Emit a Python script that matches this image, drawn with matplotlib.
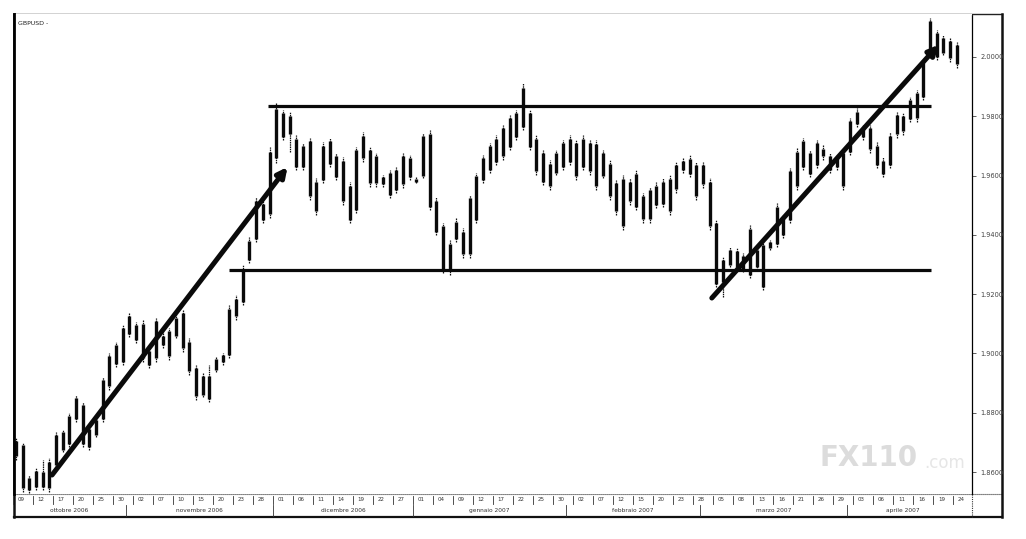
import matplotlib
matplotlib.use("Agg")
import matplotlib.pyplot as plt
import pandas as pd

# daily bars, GBP/USD
HIGH = [
    1.8715, 1.8698, 1.8590, 1.8614, 1.8641, 1.8647, 1.8735, 1.8742, 1.8799, 1.8860,
    1.8836, 1.8752, 1.8782, 1.8921, 1.9002, 1.9039, 1.9096, 1.9137, 1.9106, 1.9113,
    1.9022, 1.9120, 1.9072, 1.9086, 1.9130, 1.9147, 1.9052, 1.8961, 1.8934, 1.8961,
    1.8988, 1.9002, 1.9164, 1.9197, 1.9298, 1.9393, 1.9528, 1.9518, 1.9697, 1.9845,
    1.9821, 1.9815, 1.9737, 1.9710, 1.9727, 1.9592, 1.9713, 1.9727, 1.9676, 1.9663,
    1.9578, 1.9697, 1.9747, 1.9697, 1.9676, 1.9602, 1.9619, 1.9629, 1.9676, 1.9669,
    1.9595, 1.9744, 1.9754, 1.9528, 1.9440, 1.9383, 1.9457, 1.9423, 1.9535, 1.9609,
    1.9669, 1.9710, 1.9737, 1.9771, 1.9804, 1.9821, 1.9912, 1.9821, 1.9737, 1.9686,
    1.9653, 1.9686, 1.9720, 1.9737, 1.9720, 1.9737, 1.9720, 1.9720, 1.9686, 1.9653,
    1.9585, 1.9602, 1.9592, 1.9619, 1.9541, 1.9562, 1.9578, 1.9592, 1.9602, 1.9646,
    1.9659, 1.9669, 1.9646, 1.9646, 1.9592, 1.9450, 1.9325, 1.9359, 1.9356, 1.9339,
    1.9433, 1.9359, 1.9376, 1.9383, 1.9508, 1.9467, 1.9626, 1.9693, 1.9727, 1.9686,
    1.9720, 1.9703, 1.9676, 1.9669, 1.9686, 1.9794, 1.9828, 1.9771, 1.9771, 1.9713,
    1.9663, 1.9747, 1.9815, 1.9811, 1.9865, 1.9889, 1.9990, 2.0132, 2.0091, 2.0074,
    2.0064, 2.0051,
]
LOW = [
    1.8641, 1.8533, 1.8529, 1.8540, 1.8540, 1.8533, 1.8617, 1.8668, 1.8685, 1.8769,
    1.8685, 1.8674, 1.8718, 1.8769, 1.8877, 1.8954, 1.8961, 1.9056, 1.9035, 1.8971,
    1.8951, 1.8971, 1.9019, 1.8978, 1.9052, 1.9005, 1.8927, 1.8843, 1.8853, 1.8836,
    1.8938, 1.8961, 1.8985, 1.9113, 1.9164, 1.9305, 1.9376, 1.9440, 1.9457, 1.9643,
    1.9720, 1.9680, 1.9619, 1.9619, 1.9518, 1.9467, 1.9575, 1.9629, 1.9585, 1.9501,
    1.9440, 1.9474, 1.9646, 1.9562, 1.9562, 1.9562, 1.9524, 1.9541, 1.9558, 1.9585,
    1.9575, 1.9592, 1.9484, 1.9400, 1.9271, 1.9265, 1.9376, 1.9322, 1.9322, 1.9440,
    1.9575, 1.9609, 1.9636, 1.9653, 1.9686, 1.9720, 1.9754, 1.9686, 1.9602, 1.9568,
    1.9551, 1.9602, 1.9619, 1.9636, 1.9585, 1.9619, 1.9602, 1.9551, 1.9592, 1.9518,
    1.9467, 1.9416, 1.9501, 1.9484, 1.9440, 1.9440, 1.9491, 1.9494, 1.9467, 1.9541,
    1.9609, 1.9595, 1.9518, 1.9558, 1.9416, 1.9224, 1.9190, 1.9292, 1.9282, 1.9275,
    1.9255, 1.9282, 1.9214, 1.9349, 1.9359, 1.9390, 1.9440, 1.9551, 1.9619, 1.9595,
    1.9626, 1.9653, 1.9609, 1.9619, 1.9551, 1.9669, 1.9764, 1.9720, 1.9676, 1.9626,
    1.9595, 1.9626, 1.9727, 1.9737, 1.9781, 1.9781, 1.9855, 2.0007, 1.9990, 2.0007,
    1.9983, 1.9963,
]
OPEN = [
    1.8705, 1.8690, 1.8540, 1.8550, 1.8600, 1.8545, 1.8625, 1.8675, 1.8695, 1.8780,
    1.8825, 1.8685, 1.8725, 1.8780, 1.8890, 1.8965, 1.8970, 1.9065, 1.9095, 1.9100,
    1.8960, 1.8985, 1.9030, 1.9075, 1.9060, 1.9135, 1.9040, 1.8950, 1.8860, 1.8925,
    1.8945, 1.8970, 1.8995, 1.9125, 1.9175, 1.9315, 1.9385, 1.9505, 1.9470, 1.9660,
    1.9810, 1.9740, 1.9725, 1.9630, 1.9715, 1.9480, 1.9585, 1.9715, 1.9665, 1.9650,
    1.9450, 1.9485, 1.9735, 1.9685, 1.9575, 1.9595, 1.9610, 1.9550, 1.9570, 1.9660,
    1.9590, 1.9600, 1.9740, 1.9515, 1.9430, 1.9280, 1.9385, 1.9410, 1.9335, 1.9450,
    1.9585, 1.9620, 1.9645, 1.9665, 1.9695, 1.9730, 1.9765, 1.9810, 1.9725, 1.9675,
    1.9565, 1.9610, 1.9630, 1.9725, 1.9710, 1.9630, 1.9710, 1.9705, 1.9600, 1.9640,
    1.9575, 1.9590, 1.9515, 1.9495, 1.9530, 1.9455, 1.9500, 1.9580, 1.9480, 1.9555,
    1.9620, 1.9605, 1.9635, 1.9570, 1.9580, 1.9440, 1.9240, 1.9300, 1.9345, 1.9285,
    1.9265, 1.9350, 1.9225, 1.9355, 1.9370, 1.9455, 1.9450, 1.9565, 1.9630, 1.9675,
    1.9635, 1.9690, 1.9665, 1.9630, 1.9565, 1.9680, 1.9775, 1.9760, 1.9760, 1.9700,
    1.9650, 1.9635, 1.9740, 1.9750, 1.9790, 1.9795, 1.9865, 2.0020, 2.0080, 2.0015,
    2.0055, 1.9975,
]
CLOSE = [
    1.8655, 1.8545, 1.8580, 1.8605, 1.8550, 1.8635, 1.8725, 1.8735, 1.8790, 1.8850,
    1.8695, 1.8745, 1.8775, 1.8910, 1.8990, 1.9030, 1.9085, 1.9125, 1.9045, 1.8985,
    1.9010, 1.9110, 1.9060, 1.8990, 1.9120, 1.9020, 1.8940, 1.8855, 1.8925, 1.8845,
    1.8980, 1.8995, 1.9150, 1.9185, 1.9285, 1.9380, 1.9515, 1.9450, 1.9680, 1.9825,
    1.9730, 1.9800, 1.9630, 1.9700, 1.9530, 1.9580, 1.9700, 1.9640, 1.9595, 1.9515,
    1.9565, 1.9685, 1.9660, 1.9575, 1.9665, 1.9570, 1.9535, 1.9620, 1.9665, 1.9595,
    1.9580, 1.9735, 1.9495, 1.9410, 1.9285, 1.9370, 1.9445, 1.9335, 1.9525, 1.9600,
    1.9660, 1.9700, 1.9725, 1.9760, 1.9795, 1.9810, 1.9895, 1.9695, 1.9615, 1.9580,
    1.9640, 1.9675, 1.9710, 1.9645, 1.9600, 1.9725, 1.9615, 1.9565, 1.9675, 1.9530,
    1.9480, 1.9430, 1.9580, 1.9605, 1.9455, 1.9550, 1.9565, 1.9505, 1.9590, 1.9635,
    1.9650, 1.9655, 1.9530, 1.9635, 1.9430, 1.9235, 1.9315, 1.9350, 1.9290, 1.9330,
    1.9420, 1.9290, 1.9365, 1.9375, 1.9495, 1.9400, 1.9615, 1.9680, 1.9715, 1.9605,
    1.9710, 1.9665, 1.9620, 1.9660, 1.9675, 1.9785, 1.9815, 1.9730, 1.9690, 1.9635,
    1.9605, 1.9735, 1.9805, 1.9800, 1.9855, 1.9880, 1.9980, 2.0120, 2.0000, 2.0065,
    1.9995, 2.0040,
]

FIRST_DAY = "2006-10-09"
MONTHS = ["ottobre 2006", "novembre 2006", "dicembre 2006", "gennaio 2007",
          "febbraio 2007", "marzo 2007", "aprile 2007"]
PRICE_TICKS = [1.86, 1.88, 1.90, 1.92, 1.94, 1.96, 1.98, 2.00]

RESISTANCE = 1.9835
SUPPORT = 1.9282
RES_SPAN = (37.7, 137.1)
SUP_SPAN = (32.0, 137.1)
# trend arrows: (bar, price) start -> end
TREND_UP_1 = [(5.4, 1.8590), (40.7, 1.9629)]
TREND_UP_2 = [(104.3, 1.9187), (138.3, 2.0041)]

W, H = 1026, 539


def frac(x0, y0, x1, y1):
    return [x0 / W, 1 - y1 / H, (x1 - x0) / W, (y1 - y0) / H]


def main() -> None:
    plt.rcParams.update({"font.family": "DejaVu Sans"})
    fig = plt.figure(figsize=(W / 100, H / 100), dpi=100)
    fig.patch.set_facecolor("white")

    n = len(HIGH)
    dates = pd.bdate_range(FIRST_DAY, periods=n)
    x = list(range(n))

    ax = fig.add_axes(frac(14, 14, 972, 494))
    ax.set_xlim(-0.3, 143.3)
    ax.set_ylim(1.8526, 2.0145)

    ax.vlines(x, LOW, HIGH, color="#111111", linewidth=0.9, linestyles=(0, (1.2, 0.6)))
    ax.vlines(x, OPEN, CLOSE, color="#0a0a0a", linewidth=2.4)

    ax.hlines(RESISTANCE, *RES_SPAN, color="#0a0a0a", linewidth=2.3)
    ax.hlines(SUPPORT, *SUP_SPAN, color="#0a0a0a", linewidth=2.3)
    for (x0, y0), (x1, y1) in (TREND_UP_1, TREND_UP_2):
        ax.annotate("", xy=(x1, y1), xytext=(x0, y0),
                    arrowprops=dict(arrowstyle="-|>", color="#0a0a0a", lw=3.6,
                                    mutation_scale=14, shrinkA=0, shrinkB=0))

    ax.yaxis.tick_right()
    ax.set_yticks(PRICE_TICKS)
    ax.set_yticklabels([f"{v:.4f}" for v in PRICE_TICKS], fontsize=4.8, color="#444444")
    ax.tick_params(axis="y", length=3, width=0.6, pad=3, colors="#444444")
    ax.set_xticks([])
    for side in ("top", "bottom"):
        ax.spines[side].set_visible(False)
    ax.spines["left"].set_linewidth(2.0)
    ax.spines["right"].set_linestyle((0, (1, 1)))
    ax.spines["right"].set_linewidth(0.9)

    ax.text(0.004, 0.985, "GBPUSD -", transform=ax.transAxes, fontsize=4.5,
            va="top", ha="left", color="#222222")

    # watermark from the source image
    ax.text(0.841, 0.045, "FX110", transform=ax.transAxes, fontsize=20,
            fontweight="bold", color="#dcdcdc", ha="left", va="bottom")
    ax.text(0.950, 0.045, ".com", transform=ax.transAxes, fontsize=12,
            color="#e6e6e6", ha="left", va="bottom")

    # date strip below the price panel
    tr = ax.get_xaxis_transform()
    for i in range(0, n, 3):
        ax.plot([i - 0.5, i - 0.5], [-0.004, -0.020], transform=tr, color="#333333",
                lw=0.6, clip_on=False)
        ax.text(i + 0.2, -0.012, f"{dates[i].day:02d}", transform=tr, fontsize=4.0,
                ha="left", va="center", color="#333333", clip_on=False)
    month_id = [d.month for d in dates]
    starts = [0] + [i for i in range(1, n) if month_id[i] != month_id[i - 1]]
    ends = starts[1:] + [n]
    for k, (s, e) in enumerate(zip(starts, ends)):
        if s > 0:
            ax.plot([s - 0.5, s - 0.5], [-0.022, -0.046], transform=tr, color="#333333",
                    lw=0.6, clip_on=False)
        ax.text((s + e - 1) / 2, -0.034, MONTHS[k], transform=tr, fontsize=4.2,
                ha="center", va="center", color="#333333", clip_on=False)

    # outer frame
    bg = fig.add_axes([0, 0, 1, 1], zorder=-1)
    bg.set_xlim(0, W)
    bg.set_ylim(H, 0)
    bg.axis("off")
    bg.plot([14, 1002], [14, 14], color="#222222", lw=1.0)
    bg.plot([14, 1002], [494, 494], color="#333333", lw=0.8, linestyle=(0, (1, 0.8)))
    bg.plot([14, 1002], [517, 517], color="#111111", lw=1.6)
    bg.plot([14, 14], [14, 517], color="#111111", lw=1.8)
    bg.plot([1002, 1002], [14, 517], color="#111111", lw=1.8)
    bg.plot([972, 972], [494, 517], color="#333333", lw=0.8, linestyle=(0, (1, 1)))

    fig.savefig("out.png", dpi=100, facecolor="white")
    plt.close(fig)


if __name__ == "__main__":
    main()
